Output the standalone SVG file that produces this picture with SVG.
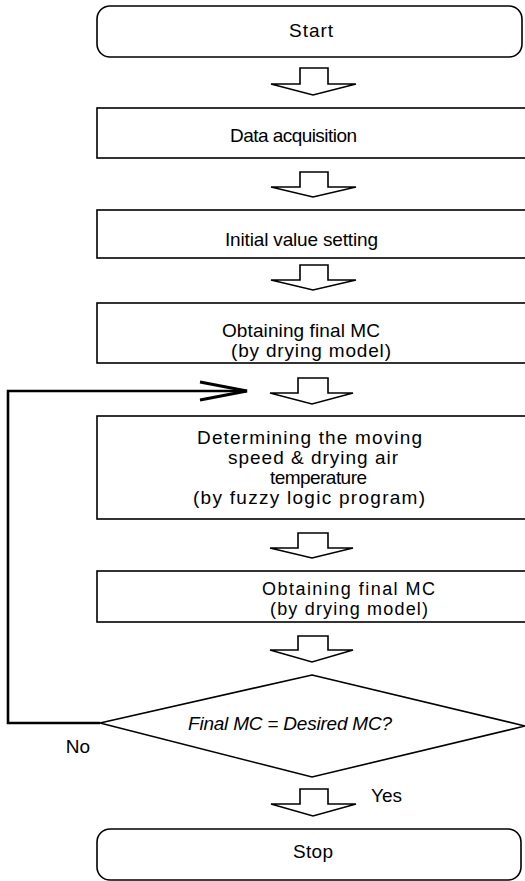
<svg xmlns="http://www.w3.org/2000/svg" width="525" height="881" viewBox="0 0 525 881">
<style>
.box{fill:#fff;stroke:#000;stroke-width:1.6}
.blk{fill:#fff;stroke:#000;stroke-width:1.6;stroke-linejoin:miter}
.t{font-family:"Liberation Sans",Arial,sans-serif;font-size:19px;fill:#000;text-anchor:middle}
.s{font-size:18px}
.i{font-style:italic}
.loop{fill:none;stroke:#000;stroke-width:2.6}
</style>
<defs>
<marker id="chev" markerUnits="userSpaceOnUse" markerWidth="52" markerHeight="24" refX="48" refY="12" orient="auto">
<path d="M1,3 L48,12 L1,21" fill="none" stroke="#000" stroke-width="2.8"/>
</marker>
</defs>
<rect width="525" height="881" fill="#fff"/>

<g id="start">
<rect class="box" x="97" y="6" width="425" height="51" rx="13"/>
<text class="t" x="311" y="37" textLength="44" lengthAdjust="spacing">Start</text>
</g>
<g id="data">
<rect class="box" x="97" y="108" width="432" height="50"/>
<text class="t" x="293.5" y="142" textLength="127" lengthAdjust="spacing">Data acquisition</text>
</g>
<g id="init">
<rect class="box" x="97" y="210" width="432" height="48"/>
<text class="t" x="301.5" y="246" textLength="153" lengthAdjust="spacing">Initial value setting</text>
</g>
<g id="final1">
<rect class="box" x="97" y="303" width="432" height="60"/>
<text class="t" x="301" y="337" textLength="158" lengthAdjust="spacing">Obtaining final MC</text>
<text class="t" x="311" y="357" textLength="160" lengthAdjust="spacing">(by drying model)</text>
</g>
<g id="fuzzy">
<rect class="box" x="97" y="416" width="432" height="103"/>
<text class="t" x="309.5" y="444" textLength="225" lengthAdjust="spacing">Determining the moving</text>
<text class="t" x="313" y="464" textLength="170" lengthAdjust="spacing">speed &amp; drying air</text>
<text class="t" x="318.5" y="484" textLength="97" lengthAdjust="spacing">temperature</text>
<text class="t" x="309" y="504" textLength="232" lengthAdjust="spacing">(by fuzzy logic program)</text>
</g>
<g id="final2">
<rect class="box" x="97" y="571" width="432" height="51"/>
<text class="t s" x="348.5" y="595" textLength="173" lengthAdjust="spacing">Obtaining final MC</text>
<text class="t s" x="349" y="615" textLength="158" lengthAdjust="spacing">(by drying model)</text>
</g>
<g id="decision">
<polygon class="box" points="312,675 525,726 312,777 100,723"/>
<text class="t i" x="290" y="730" textLength="204" lengthAdjust="spacing">Final MC = Desired MC?</text>
</g>
<g id="stop">
<rect class="box" x="97" y="829" width="424" height="51" rx="13"/>
<text class="t" x="313" y="858" textLength="40" lengthAdjust="spacing">Stop</text>
</g>

<g id="connectors">
<polygon class="blk" points="300,68 328,68 328,84 356,84 313,95 271,84 300,84"/>
<polygon class="blk" points="300,172 328,172 328,187 356,187 313,197 271,187 300,187"/>
<polygon class="blk" points="300,265 328,265 328,280 356,280 313,290 271,280 300,280"/>
<polygon class="blk" points="298,378 328,378 328,393 353,393 312,404 270,393 298,393"/>
<polygon class="blk" points="298,533 328,533 328,548 353,548 312,558 270,548 298,548"/>
<polygon class="blk" points="298,636 328,636 328,650 353,650 312,662 270,650 298,650"/>
<polygon class="blk" points="300,789 328,789 328,804 356,804 313,816 271,804 300,804"/>
<path class="loop" d="M100,723 L8,723 L8,391 L247,391" marker-end="url(#chev)"/>
<text class="t" x="78" y="753">No</text>
<text class="t" x="386.5" y="802">Yes</text>
</g>
</svg>
